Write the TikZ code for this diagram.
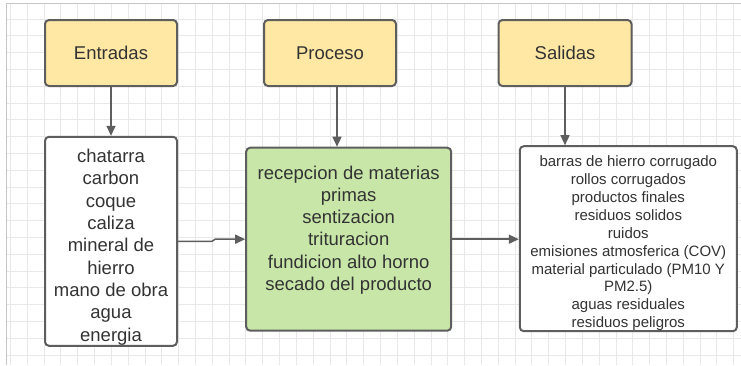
\documentclass[tikz,border=0pt]{standalone}
\usepackage{fontspec}
\setmainfont{Liberation Sans}
\usetikzlibrary{arrows.meta}
\definecolor{boxline}{HTML}{5E5E5E}
\definecolor{txtgray}{HTML}{333333}
\definecolor{headfill}{HTML}{FFE8A3}
\definecolor{procfill}{HTML}{C7E6A8}
\definecolor{gridgray}{HTML}{E8E8E8}

\begin{document}
\begin{tikzpicture}[x=1pt, y=-1pt,
    box/.style={draw=boxline, line width=2pt, rounded corners=4pt, text=txtgray, align=center, inner sep=0pt},
    bigtext/.style={font=\fontsize{18.5}{22.3}\selectfont},
    smalltext/.style={font=\fontsize{15}{17.9}\selectfont},
    link/.style={draw=boxline, line width=1.5pt, -{Triangle[length=10pt, width=9pt]}}]
  \useasboundingbox (0,0) rectangle (741,365);
  \fill[white] (0,0) rectangle (741,365);
  \foreach \k in {0,...,43}
    \draw[gridgray, line width=1pt] ({10.5+16.82*\k},3) -- ({10.5+16.82*\k},365);
  \foreach \k in {1,...,21}
    \draw[gridgray, line width=1pt] (6,{2.2+16.8*\k}) -- (741,{2.2+16.8*\k});
  \draw[gray!45, line width=1pt] (6,365) -- (6,3) -- (741,3);

  \node[box, bigtext, fill=headfill, minimum width=132pt, minimum height=66pt] (ent) at (111,53) {Entradas};
  \node[box, bigtext, fill=headfill, minimum width=132pt, minimum height=66pt] (pro) at (330,53) {Proceso};
  \node[box, bigtext, fill=headfill, minimum width=133pt, minimum height=66pt] (sal) at (565,53) {Salidas};

  \node[box, bigtext, fill=white, minimum width=132pt, minimum height=209pt] (inp) at (111,241.3)
    {\rule{0pt}{25pt}chatarra\\carbon\\coque\\caliza\\mineral de\\hierro\\mano de obra\\agua\\energia};
  \node[box, bigtext, fill=procfill, minimum width=205pt, minimum height=183pt] (prod) at (348.7,239.2)
    {recepcion de materias\\primas\\sentizacion\\trituracion\\ fundicion alto horno\\secado del producto\\ \mbox{}};
  \node[box, smalltext, fill=white, minimum width=217pt, minimum height=185pt] (out) at (628.3,238.7)
    {\rule{0pt}{20pt}barras de hierro corrugado\\rollos corrugados\\productos finales\\residuos solidos\\ruidos\\emisiones atmosferica (COV)\\material particulado (PM10 Y\\PM2.5)\\aguas residuales\\residuos peligros};

  \draw[link] (ent.south) -- (inp.north);
  \draw[link] ([xshift=7pt]pro.south) -- ([xshift=7pt]pro.south |- prod.north);
  \draw[link] (sal.south) -- (sal.south |- out.north);
  \draw[link] (inp.east) -- ++(34,0) -- ([xshift=-30pt]prod.west) -- (prod.west);
  \draw[link] (prod.east) -- (prod.east -| out.west);
\end{tikzpicture}
\end{document}
